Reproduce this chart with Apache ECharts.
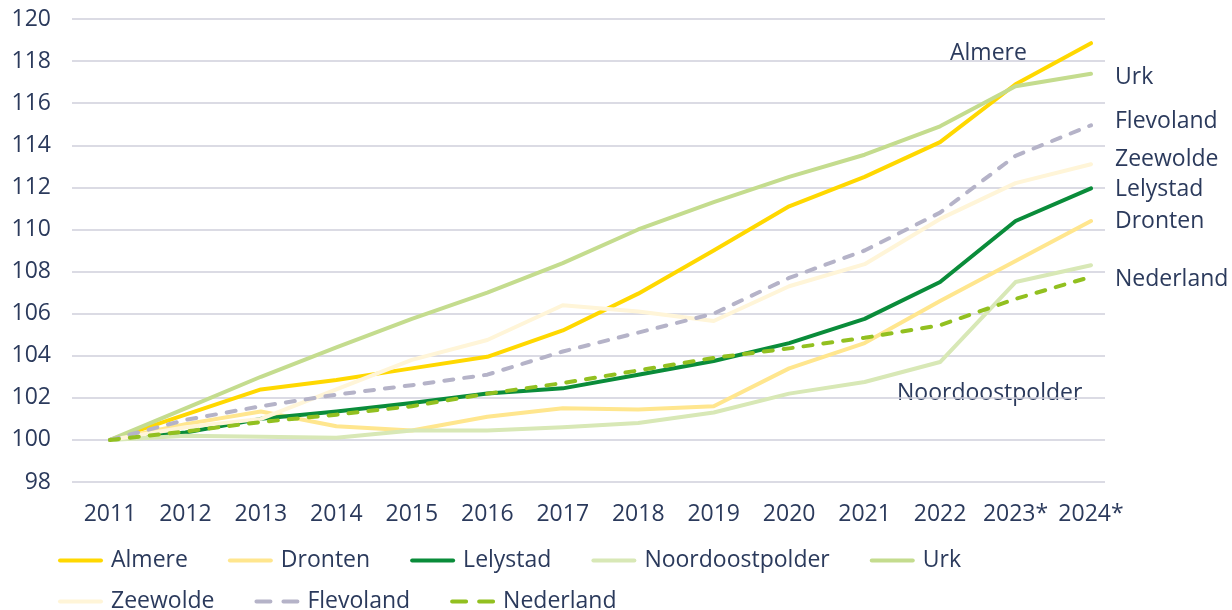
<!DOCTYPE html>
<html>
<head>
<meta charset="utf-8">
<script src="https://cdn.jsdelivr.net/npm/echarts@6/dist/echarts.min.js"></script>
<style>
html,body{margin:0;padding:0;background:#fff;}
#chart{width:1232px;height:610px;}
</style>
</head>
<body>
<div id="chart"></div>
<script>
const years = ['2011','2012','2013','2014','2015','2016','2017','2018','2019','2020','2021','2022','2023*','2024*'];
const almere = [100, 101.2, 102.4, 102.85, 103.4, 103.95, 105.2, 106.95, 109.0, 111.1, 112.5, 114.15, 116.9, 118.85];
const dronten = [100, 100.75, 101.35, 100.65, 100.45, 101.1, 101.5, 101.45, 101.6, 103.4, 104.6, 106.6, 108.5, 110.4];
const lelystad = [100, 100.35, 101.0, 101.35, 101.75, 102.2, 102.45, 103.1, 103.75, 104.6, 105.75, 107.5, 110.4, 111.95];
const noordoostpolder = [100, 100.2, 100.15, 100.1, 100.45, 100.45, 100.6, 100.8, 101.3, 102.2, 102.75, 103.7, 107.5, 108.3];
const urk = [100, 101.5, 103.0, 104.4, 105.75, 107.0, 108.4, 110.0, 111.3, 112.5, 113.55, 114.9, 116.8, 117.4];
const zeewolde = [100, 100.6, 101.0, 102.4, 103.8, 104.75, 106.4, 106.1, 105.65, 107.3, 108.35, 110.5, 112.2, 113.1];
const flevoland = [100, 100.95, 101.6, 102.15, 102.6, 103.1, 104.2, 105.1, 106.0, 107.7, 109.0, 110.8, 113.5, 114.95];
const nederland = [100, 100.4, 100.85, 101.2, 101.6, 102.2, 102.7, 103.3, 103.9, 104.35, 104.85, 105.45, 106.7, 107.75];
const yTicks = {min: 98, max: 120, step: 2};

const NAVY = '#2b3a5c';
const FONT = '"Open Sans"';
const FS = 23;
const colors = {
  Almere: '#FFD800', Dronten: '#FFE68E', Lelystad: '#0A8C3A', Noordoostpolder: '#D8E8B6',
  Urk: '#C4DC8E', Zeewolde: '#FFF5D8', Flevoland: '#B5B3C8', Nederland: '#92C020'
};
const seriesDefs = [
  ['Almere', almere, 'solid'],
  ['Dronten', dronten, 'solid'],
  ['Lelystad', lelystad, 'solid'],
  ['Noordoostpolder', noordoostpolder, 'solid'],
  ['Urk', urk, 'solid'],
  ['Zeewolde', zeewolde, 'solid'],
  ['Flevoland', flevoland, [9, 11]],
  ['Nederland', nederland, [9, 11]]
];
const series = seriesDefs.map(([name, data, type]) => ({
  name, type: 'line', data, xAxisIndex: 1, yAxisIndex: 1,
  symbol: 'none', smooth: false, silent: true,
  lineStyle: {color: colors[name], width: 4, type, cap: 'round', join: 'round'},
  itemStyle: {color: colors[name]}
}));

const SOLID_ICON = 'path://M2,0H43A2,2 0 0 1 43,4H2A2,2 0 0 1 2,0Z';
const DASH_ICON = 'path://M2,0H16A2,2 0 0 1 16,4H2A2,2 0 0 1 2,0Z M29,0H43A2,2 0 0 1 43,4H29A2,2 0 0 1 29,0Z';
function legendItem(name) {
  const dashed = (name === 'Flevoland' || name === 'Nederland');
  return {name, icon: dashed ? DASH_ICON : SOLID_ICON, itemStyle: {color: colors[name]}};
}
const legendCommon = {
  orient: 'horizontal', itemWidth: 45, itemHeight: 4, itemGap: 40,
  textStyle: {color: NAVY, fontSize: FS, fontFamily: 'Open Sans', padding: [0, 0, 0, 3]},
  selectedMode: false
};

const labels = [
  ['Almere', 950, 53], ['Urk', 1115, 77], ['Flevoland', 1115, 121], ['Zeewolde', 1115, 159],
  ['Lelystad', 1115, 189], ['Dronten', 1115, 221], ['Nederland', 1115, 279], ['Noordoostpolder', 897, 393]
];

const chart = echarts.init(document.getElementById('chart'));
chart.setOption({
  animation: false,
  backgroundColor: '#fff',
  grid: [
    {left: 72, right: 127, top: 19, bottom: 128},
    {left: 110, right: 141, top: 19, bottom: 128}
  ],
  xAxis: [
    {gridIndex: 0, type: 'value', min: 0, max: 1, show: false},
    {gridIndex: 1, type: 'category', data: years, boundaryGap: false,
     axisLine: {show: false}, axisTick: {show: false}, splitLine: {show: false},
     axisLabel: {interval: 0, color: NAVY, fontSize: FS, fontFamily: 'Open Sans', margin: 21}}
  ],
  yAxis: [
    {gridIndex: 0, type: 'value', min: yTicks.min, max: yTicks.max, interval: yTicks.step,
     axisLine: {show: false}, axisTick: {show: false},
     axisLabel: {color: NAVY, fontSize: FS, fontFamily: 'Open Sans', margin: 21},
     splitLine: {lineStyle: {color: '#CFCFDB', width: 1.5}}},
    {gridIndex: 1, type: 'value', min: yTicks.min, max: yTicks.max, interval: yTicks.step, show: false}
  ],
  legend: [
    Object.assign({left: 53, top: 544, data: ['Almere','Dronten','Lelystad','Noordoostpolder','Urk'].map(legendItem)}, legendCommon),
    Object.assign({left: 53, top: 585, data: ['Zeewolde','Flevoland','Nederland'].map(legendItem)}, legendCommon)
  ],
  graphic: labels.map(([t, x, y]) => ({
    type: 'text', x: x, y: y, silent: true,
    style: {text: t, fill: NAVY, font: FS + 'px ' + FONT, verticalAlign: 'middle', align: 'left'}
  })),
  series
});
</script>
</body>
</html>
